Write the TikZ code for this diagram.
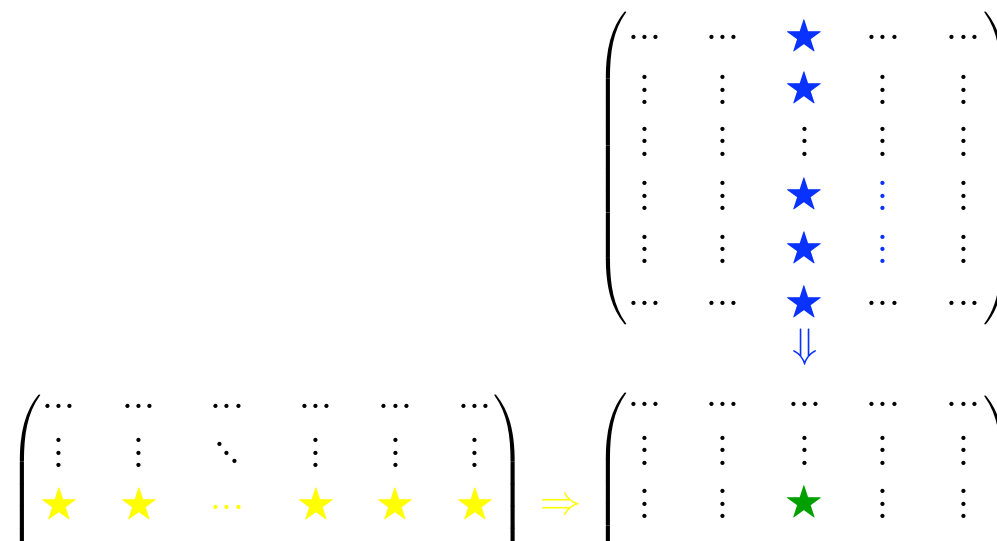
\documentclass[tikz,border=0pt]{standalone}
\usepackage{amsmath,amssymb}
\usepackage{fontspec}
\definecolor{sblue}{RGB}{10,50,255}
\definecolor{sgreen}{RGB}{0,160,0}
\definecolor{syellow}{RGB}{255,255,0}
\newcommand\dotsH{\hbox{.\kern-0.55pt.\kern-0.55pt.}}
\newcommand\dotsV{\vbox{\baselineskip=4.3pt\lineskiplimit=-10pt\lineskip=0pt\hbox{.}\hbox{.}\hbox{.}}}
\newcommand\dotsD{\hbox{\raise6.1pt\hbox{.}\kern-1.85pt\raise3.05pt\hbox{.}\kern-1.85pt\hbox{.}}}
\newcommand\lparen[1]{$\left(\vcenter{\hbox{\rule{0pt}{#1}}}\right.\kern-\nulldelimiterspace$}
\newcommand\rparen[1]{$\kern-\nulldelimiterspace\left.\vcenter{\hbox{\rule{0pt}{#1}}}\right)$}
\tikzset{
  dt/.style={inner sep=0pt, font=\fontsize{18}{20}\selectfont},
  sr/.style={inner sep=0pt, font=\fontsize{14}{16}\selectfont},
  pbox/.style={inner sep=0pt, font=\fontsize{13}{15}\selectfont},
  arr/.style={inner sep=0pt, font=\fontsize{13.5}{16}\selectfont},
}
\begin{document}
\begin{tikzpicture}[x=0.35pt,y=-0.35pt]
\useasboundingbox (0,0) rectangle (997,540);
\clip (0,0) rectangle (997,540);
% ---------- top right matrix ----------
\node[pbox] (tlp) at (612,168.5) {\lparen{111pt}};
\node[pbox] (trp) at (999.5,168.5) {\rparen{111pt}};
% row 1
\node[dt] (t11) at (645,37.7) {\dotsH};
\node[dt] (t12) at (722.7,37.7) {\dotsH};
\node[sr,text=sblue] (t13) at (804.7,37.5) {$\bigstar$};
\node[dt] (t14) at (883.3,37.7) {\dotsH};
\node[dt] (t15) at (963.6,37.7) {\dotsH};
% row 2
\node[dt] (t21) at (645,90) {\dotsV};
\node[dt] (t22) at (722.7,90) {\dotsV};
\node[sr,text=sblue] (t23) at (804.7,89.8) {$\bigstar$};
\node[dt] (t24) at (883.3,90) {\dotsV};
\node[dt] (t25) at (963.6,90) {\dotsV};
% row 3
\node[dt] (t31) at (645,141.7) {\dotsV};
\node[dt] (t32) at (722.7,141.7) {\dotsV};
\node[dt] (t33) at (804.7,141.7) {\dotsV};
\node[dt] (t34) at (883.3,141.7) {\dotsV};
\node[dt] (t35) at (963.6,141.7) {\dotsV};
% row 4
\node[dt] (t41) at (645,196) {\dotsV};
\node[dt] (t42) at (722.7,196) {\dotsV};
\node[sr,text=sblue] (t43) at (804.7,195.8) {$\bigstar$};
\node[dt,text=sblue] (t44) at (883.3,196) {\dotsV};
\node[dt] (t45) at (963.6,196) {\dotsV};
% row 5
\node[dt] (t51) at (645,249.3) {\dotsV};
\node[dt] (t52) at (722.7,249.3) {\dotsV};
\node[sr,text=sblue] (t53) at (804.7,249.1) {$\bigstar$};
\node[dt,text=sblue] (t54) at (883.3,249.3) {\dotsV};
\node[dt] (t55) at (963.6,249.3) {\dotsV};
% row 6
\node[dt] (t61) at (645,303.3) {\dotsH};
\node[dt] (t62) at (722.7,303.3) {\dotsH};
\node[sr,text=sblue] (t63) at (804.7,303.1) {$\bigstar$};
\node[dt] (t64) at (883.3,303.3) {\dotsH};
\node[dt] (t65) at (963.6,303.3) {\dotsH};
% ---------- down arrow ----------
\node[arr,text=sblue] (dn) at (805,347.5) {$\Downarrow$};
% ---------- bottom right matrix ----------
\node[pbox] (blp) at (612,548.5) {\lparen{111pt}};
\node[pbox] (brp) at (1000,551.5) {\rparen{111pt}};
\node[dt] (b11) at (645,404) {\dotsH};
\node[dt] (b12) at (722.7,404) {\dotsH};
\node[dt] (b13) at (804.7,404) {\dotsH};
\node[dt] (b14) at (883.3,404) {\dotsH};
\node[dt] (b15) at (963.6,404) {\dotsH};
\node[dt] (b21) at (645,450.7) {\dotsV};
\node[dt] (b22) at (722.7,450.7) {\dotsV};
\node[dt] (b23) at (804.7,450.7) {\dotsV};
\node[dt] (b24) at (883.3,450.7) {\dotsV};
\node[dt] (b25) at (963.6,450.7) {\dotsV};
\node[dt] (b31) at (645,504) {\dotsV};
\node[dt] (b32) at (722.7,504) {\dotsV};
\node[sr,text=sgreen] (b33) at (804.7,503.8) {$\bigstar$};
\node[dt] (b34) at (883.3,504) {\dotsV};
\node[dt] (b35) at (963.6,504) {\dotsV};
% ---------- right arrow ----------
\node[arr,text=syellow] (rt) at (561.5,506.7) {$\Rightarrow$};
% ---------- bottom left matrix ----------
\node[pbox] (llp) at (26,551.2) {\lparen{111pt}};
\node[pbox] (lrp) at (509.5,551.2) {\rparen{111pt}};
\node[dt] (l11) at (59,406) {\dotsH};
\node[dt] (l12) at (139,406) {\dotsH};
\node[dt] (l13) at (227.3,406) {\dotsH};
\node[dt] (l14) at (316,406) {\dotsH};
\node[dt] (l15) at (395.7,406) {\dotsH};
\node[dt] (l16) at (475,406) {\dotsH};
\node[dt] (l21) at (59,453) {\dotsV};
\node[dt] (l22) at (139,453) {\dotsV};
\node[dt] (l23) at (227.3,453) {\dotsD};
\node[dt] (l24) at (316,453) {\dotsV};
\node[dt] (l25) at (395.7,453) {\dotsV};
\node[dt] (l26) at (475,453) {\dotsV};
\node[sr,text=syellow] (l31) at (59,506) {$\bigstar$};
\node[sr,text=syellow] (l32) at (139,506) {$\bigstar$};
\node[dt,text=syellow] (l33) at (227.3,507) {\dotsH};
\node[sr,text=syellow] (l34) at (316,506) {$\bigstar$};
\node[sr,text=syellow] (l35) at (395.7,506) {$\bigstar$};
\node[sr,text=syellow] (l36) at (475,506) {$\bigstar$};
\end{tikzpicture}
\end{document}
